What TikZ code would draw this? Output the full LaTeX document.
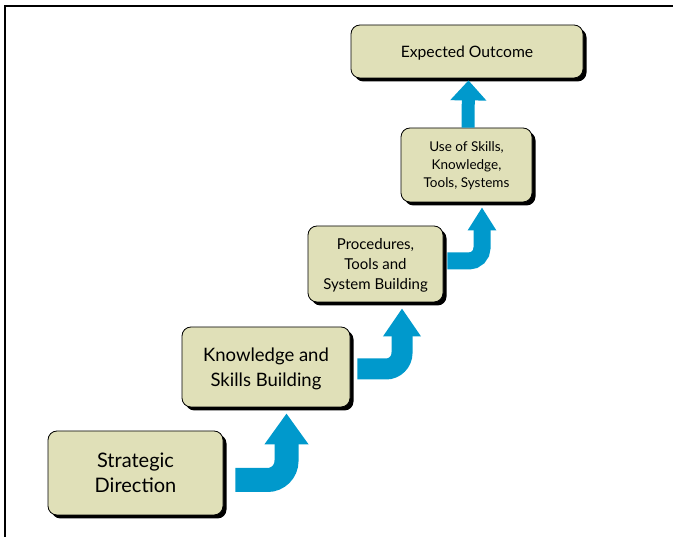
\documentclass[tikz,border=0pt]{standalone}
\usepackage{fontspec}
\setmainfont{Lato}
\usepackage{xcolor}
\definecolor{boxfill}{HTML}{E0E0B8}
\definecolor{flowblue}{HTML}{0099CC}
\usetikzlibrary{arrows.meta,positioning,calc,shadows}
\tikzset{
  stage/.style={draw=black,line width=0.8pt,rounded corners=9pt,fill=boxfill,align=center,inner sep=2pt,text depth=0pt,
    drop shadow={shadow xshift=3.5pt,shadow yshift=-3.5pt,fill=black,opacity=1}},
  flow/.style n args={3}{draw=flowblue,line width=#1,-{Triangle[width=#2,length=#3]}},
}
\begin{document}
\begin{tikzpicture}[x=1pt,y=-1pt]
\useasboundingbox (0,0) rectangle (673,537);
\draw[line width=2pt] (5,537) -- (5,6) -- (673,6);
% the five stages, bottom to top
\node[stage,minimum width=175pt,minimum height=84pt,font=\fontsize{20}{25}\selectfont] (sd) at (135.5,473) {Strategic\\Direction};
\node[stage,minimum width=168pt,minimum height=80pt,font=\fontsize{18.5}{25}\selectfont] (ksb) at (266,367) {Knowledge and\\Skills Building};
\node[stage,minimum width=135pt,minimum height=76pt,font=\fontsize{15}{20}\selectfont] (pro) at (375.5,264) {Procedures,\\Tools and\\System Building};
\node[stage,minimum width=131pt,minimum height=74pt,font=\fontsize{13.5}{18}\selectfont] (use) at (466.5,165) {Use of Skills,\\Knowledge,\\Tools, Systems};
\node[stage,minimum width=232pt,minimum height=53pt,font=\fontsize{15.7}{18}\selectfont] (exp) at (467,51.5) {Expected Outcome};
% bent arrows between the stages
\draw[flow={24pt}{42pt}{31pt},rounded corners=19pt] ($(sd.east)+(12,7)$) -| ($(ksb.south)+(20.5,6)$);
\draw[flow={21pt}{36pt}{28pt},rounded corners=16pt] ($(ksb.east)+(7,2)$) -| ($(pro.south)+(26.5,6)$);
\draw[flow={17pt}{27pt}{23pt},rounded corners=13pt] ($(pro.east)+(4,-3)$) -| ($(use.south)+(15.5,5)$);
\draw[flow={13pt}{35pt}{20pt}] ($(use.north)+(1.5,0)$) -- ($(exp.south)+(1.5,2)$);
\end{tikzpicture}
\end{document}
